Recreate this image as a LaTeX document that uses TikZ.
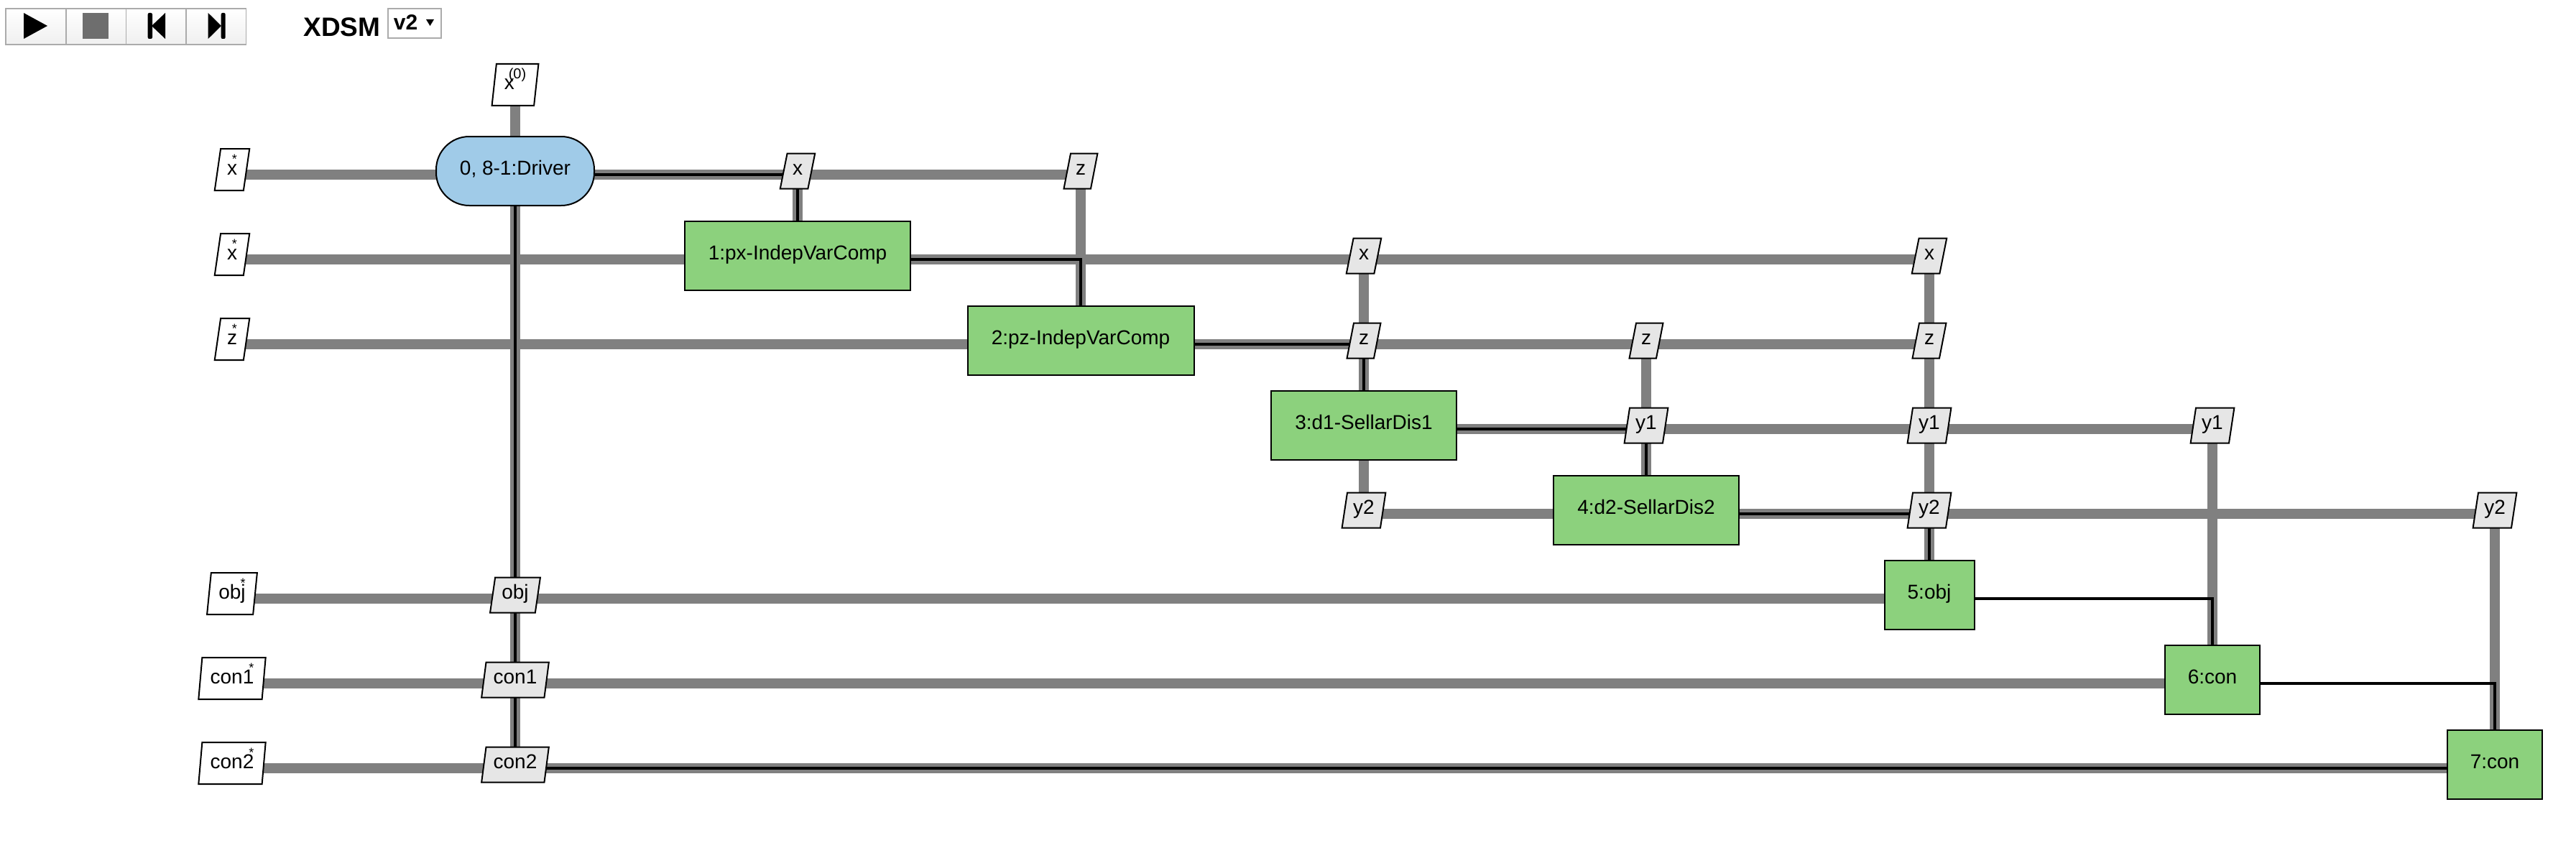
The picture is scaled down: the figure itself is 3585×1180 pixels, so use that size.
\documentclass[tikz,border=0pt]{standalone}
\usepackage{fontspec}
\setmainfont{Liberation Sans}
\usetikzlibrary{shapes.geometric}
\definecolor{driverblue}{HTML}{A0CBE8}
\definecolor{compgreen}{HTML}{8CD17D}
\definecolor{datagrey}{HTML}{E6E6E6}
\definecolor{flowgrey}{HTML}{808080}
\definecolor{btnedge}{HTML}{ABABAB}
\pgfdeclarelayer{flows}
\pgfsetlayers{flows,main}
\newcommand{\starred}[1]{#1\llap{\raisebox{16pt}{\fontsize{18}{18}\selectfont *}}}
\tikzset{
  every node/.style={font=\fontsize{28}{32}\selectfont,inner sep=0pt,anchor=base},
  datanode/.style={draw=black,line width=2pt,fill=datagrey,shape=trapezium,
    trapezium stretches=true,trapezium left angle=81,trapezium right angle=99,
    minimum height=49pt,minimum width=#1,text height=20pt,text depth=10pt},
  inputnode/.style={datanode=#1,fill=white,minimum height=58pt,text height=22pt,text depth=8pt,
    trapezium left angle=83,trapezium right angle=97},
  compnode/.style={draw=black,line width=2pt,fill=compgreen,minimum width=#1,
    minimum height=96pt,text height=20pt,text depth=10pt},
  drivernode/.style={draw=black,line width=2pt,fill=driverblue,rounded corners=46pt,
    minimum width=220pt,minimum height=96pt,text height=20pt,text depth=10pt},
  dataflow/.style={draw=flowgrey,line width=13.5pt},
  procflow/.style={draw=black,line width=3.5pt},
  toolbtn/.style={draw=btnedge,line width=1.8pt,top color=white,bottom color=black!6,
    minimum width=83.5pt,minimum height=49.5pt,anchor=center},
}
\begin{document}
\begin{tikzpicture}[x=1pt,y=-1pt]
\useasboundingbox (0,0) rectangle (3585,1180);
% toolbar
\node[toolbtn] (play) at (50,37) {};
\node[toolbtn] (stop) at (133.7,37) {};
\node[toolbtn] (back) at (217.3,37) {};
\node[toolbtn] (next) at (300.7,37) {};
\fill (33,18) -- (66,36) -- (33,54) -- cycle;
\fill[black!57] (115,18) rectangle (151,54);
\fill[rounded corners=2pt] (205.7,18) rectangle (212,54);
\fill (230,18) -- (211,36) -- (230,54) -- cycle;
\fill[rounded corners=2pt] (307.7,18) rectangle (313.7,54);
\fill (289.7,18) -- (308,36) -- (289.7,54) -- cycle;
\node (title) at (476,50.5) {\fontsize{37}{40}\selectfont\bfseries XDSM};
\node[draw=btnedge,line width=1.8pt,fill=white,minimum width=74pt,minimum height=41pt,anchor=center] (version) at (577,32.5) {};
\node (versiontext) at (564.5,42) {\fontsize{30}{32}\selectfont\bfseries v2};
\fill (593,27) -- (604,27) -- (598.5,36) -- cycle;
% inputs
\node[inputnode=65pt] (x0) at (717,125) {x\kern-8pt\raisebox{15pt}{\fontsize{20}{20}\selectfont(0)}};
\node[inputnode=48.5pt] (xa) at (323,243) {\starred{x}};
\node[inputnode=48.5pt] (xb) at (323,361) {\starred{x}};
\node[inputnode=48.5pt] (zs) at (323,479) {\starred{z}};
\node[inputnode=70pt] (objs) at (323,833) {\starred{obj}};
\node[inputnode=94pt] (cona) at (323,951) {\starred{con1}};
\node[inputnode=94pt] (conb) at (323,1069) {\starred{con2}};
% components
\node[drivernode] (driver) at (717,243) {0, 8-1:Driver};
\node[compnode=314pt] (px) at (1110,361) {1:px-IndepVarComp};
\node[compnode=315pt] (pz) at (1504,479) {2:pz-IndepVarComp};
\node[compnode=258pt] (dis1) at (1898,597) {3:d1-SellarDis1};
\node[compnode=258pt] (dis2) at (2291,715) {4:d2-SellarDis2};
\node[compnode=125pt] (obj) at (2685,833) {5:obj};
\node[compnode=132pt] (cons) at (3079,951) {6:con};
\node[compnode=132pt] (cont) at (3472,1069) {7:con};
% data
\node[datanode=48.5pt] (dx) at (1110,243) {x};
\node[datanode=47pt] (dz) at (1504,243) {z};
\node[datanode=48.5pt] (xc) at (1898,361) {x};
\node[datanode=48.5pt] (xd) at (2685,361) {x};
\node[datanode=47pt] (zc) at (1898,479) {z};
\node[datanode=47pt] (zd) at (2291,479) {z};
\node[datanode=47pt] (ze) at (2685,479) {z};
\node[datanode=61pt] (ya) at (2291,597) {y1};
\node[datanode=61pt] (yb) at (2685,597) {y1};
\node[datanode=61pt] (yc) at (3079,597) {y1};
\node[datanode=61pt] (yd) at (1898,715) {y2};
\node[datanode=61pt] (ye) at (2685,715) {y2};
\node[datanode=61pt] (yf) at (3472,715) {y2};
\node[datanode=70pt] (dobj) at (717,833) {obj};
\node[datanode=94pt] (dcona) at (717,951) {con1};
\node[datanode=94pt] (dconb) at (717,1069) {con2};
\begin{pgfonlayer}{flows}
% data connections
\draw[dataflow] (x0.base) -- (driver.base);
\draw[dataflow] (xa.base) -- (driver.base) -- (dx.base) -- (dz.base);
\draw[dataflow] (xb.base) -- (px.base) -- (xc.base) -- (xd.base);
\draw[dataflow] (zs.base) -- (pz.base) -- (zc.base) -- (zd.base) -- (ze.base);
\draw[dataflow] (dis1.base) -- (ya.base) -- (yb.base) -- (yc.base);
\draw[dataflow] (yd.base) -- (dis2.base) -- (ye.base) -- (yf.base);
\draw[dataflow] (objs.base) -- (dobj.base) -- (obj.base);
\draw[dataflow] (cona.base) -- (dcona.base) -- (cons.base);
\draw[dataflow] (conb.base) -- (dconb.base) -- (cont.base);
\draw[dataflow] (driver.base) -- (dobj.base) -- (dcona.base) -- (dconb.base);
\draw[dataflow] (dx.base) -- (px.base);
\draw[dataflow] (dz.base) -- (pz.base);
\draw[dataflow] (xc.base) -- (zc.base) -- (dis1.base) -- (yd.base);
\draw[dataflow] (zd.base) -- (ya.base) -- (dis2.base);
\draw[dataflow] (xd.base) -- (ze.base) -- (yb.base) -- (ye.base) -- (obj.base);
\draw[dataflow] (yc.base) -- (cons.base);
\draw[dataflow] (yf.base) -- (cont.base);
% process connections
\draw[procflow] (driver.base) -- (dx.base) -- (px.base) -| (pz.base) -- (zc.base) -- (dis1.base);
\draw[procflow] (dis1.base) -- (ya.base) -- (dis2.base) -- (ye.base) -- (obj.base) -| (cons.base) -| (cont.base);
\draw[procflow] (driver.base) -- (dobj.base) -- (dcona.base) -- (dconb.base) -- (cont.base);
\end{pgfonlayer}
\end{tikzpicture}
\end{document}
